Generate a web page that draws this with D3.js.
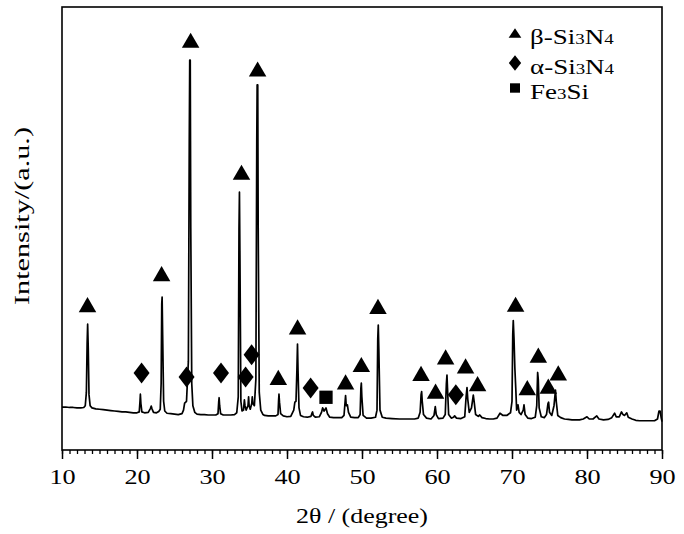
<!DOCTYPE html>
<html>
<head>
<meta charset="utf-8">
<script src="https://cdn.jsdelivr.net/npm/d3@7"></script>
<style>
    body { margin: 0; background: #fff; }
    svg text { font-family: "Liberation Serif", "Times New Roman", serif; fill: #000; }
</style>
</head>
<body>
<div id="xrd-chart"></div>
<script>

// 2theta (degree), intensity (a.u.)
var pattern = [
    [10.0, 97], [10.5, 97], [11.0, 96], [11.5, 96], [12.0, 95], [12.5, 95], [12.9, 96], [13.1, 100],
    [13.25, 130], [13.35, 240], [13.42, 284], [13.5, 230], [13.6, 125], [13.75, 100], [14.0, 95],
    [14.5, 93], [15, 92], [15.5, 91], [16, 90], [16.5, 89], [17, 88], [17.5, 87], [18, 86], [18.5, 86],
    [19, 85], [19.5, 84], [20, 84], [20.3, 86], [20.4, 110], [20.45, 126], [20.52, 105], [20.65, 86],
    [21, 84], [21.5, 85], [21.8, 94], [21.9, 99], [22.0, 93], [22.2, 85], [22.6, 84], [22.9, 87],
    [23.1, 92], [23.22, 150], [23.3, 330], [23.35, 345], [23.42, 260], [23.55, 110], [23.7, 88],
    [24, 83], [24.5, 82], [25, 81], [25.5, 80], [26, 82], [26.2, 90], [26.35, 106], [26.6, 110],
    [26.85, 200], [26.97, 700], [27.03, 880], [27.1, 880], [27.17, 500], [27.3, 150], [27.45, 100],
    [27.7, 85], [28, 81], [28.5, 80], [29, 80], [29.5, 79], [30, 79], [30.5, 79], [30.8, 82],
    [30.9, 110], [30.95, 118], [31.02, 100], [31.15, 82], [31.5, 79], [32, 79], [32.5, 79], [33, 80],
    [33.3, 84], [33.5, 120], [33.6, 500], [33.66, 582], [33.72, 450], [33.85, 110], [34.0, 88],
    [34.2, 90], [34.32, 113], [34.4, 100], [34.55, 90], [34.8, 100], [34.88, 120], [34.95, 100],
    [35.1, 92], [35.3, 105], [35.37, 120], [35.45, 105], [35.65, 100], [35.85, 160], [35.97, 700],
    [36.02, 824], [36.1, 824], [36.16, 500], [36.3, 130], [36.5, 90], [36.8, 80], [37, 78], [37.5, 77],
    [38, 77], [38.5, 77], [38.8, 80], [38.88, 112], [38.93, 126], [39.0, 108], [39.15, 82], [39.5, 77],
    [40, 75], [40.5, 76], [40.9, 90], [41.05, 108], [41.2, 110], [41.32, 180], [41.4, 239], [41.47, 180],
    [41.6, 95], [41.8, 78], [42.2, 75], [42.7, 74], [43.2, 76], [43.35, 84], [43.41, 86], [43.5, 78],
    [43.8, 74], [44.3, 75], [44.6, 85], [44.75, 95], [44.95, 88], [45.2, 95], [45.4, 82], [45.7, 74],
    [46.2, 73], [46.8, 73], [47.3, 73], [47.6, 78], [47.75, 110], [47.81, 123], [47.9, 100],
    [48.05, 102], [48.2, 85], [48.5, 74], [49, 73], [49.5, 73], [49.75, 80], [49.85, 140], [49.91, 151],
    [49.98, 120], [50.15, 78], [50.6, 72], [51.2, 72], [51.8, 74], [52.0, 90], [52.1, 250], [52.17, 282],
    [52.24, 230], [52.4, 90], [52.7, 74], [53.2, 72], [54, 71], [55, 70], [56, 70], [57, 70], [57.5, 72],
    [57.75, 85], [57.88, 125], [57.95, 132], [58.03, 110], [58.2, 80], [58.6, 72], [59.2, 70],
    [59.6, 78], [59.77, 98], [59.9, 80], [60.2, 71], [60.8, 72], [61.1, 80], [61.25, 150], [61.33, 169],
    [61.4, 140], [61.55, 80], [61.9, 72], [62.2, 74], [62.35, 77], [62.6, 72], [63.2, 71], [63.7, 75],
    [63.88, 120], [64.0, 141], [64.1, 115], [64.3, 85], [64.6, 95], [64.84, 124], [64.95, 110],
    [65.15, 80], [65.5, 76], [65.7, 79], [66, 73], [66.5, 71], [67, 70], [67.5, 70], [68, 72], [68.4, 83],
    [68.8, 78], [69.3, 78], [69.8, 84], [70.0, 110], [70.1, 260], [70.17, 292], [70.27, 250],
    [70.38, 185], [70.5, 140], [70.62, 90], [70.8, 102], [70.95, 85], [71.2, 80], [71.5, 90],
    [71.6, 102], [71.75, 80], [72.1, 72], [72.6, 71], [73.1, 74], [73.3, 100], [73.42, 175], [73.5, 160],
    [73.62, 95], [73.9, 75], [74.3, 73], [74.6, 80], [74.8, 105], [74.88, 108], [75.0, 85], [75.3, 78],
    [75.6, 100], [75.8, 135], [75.9, 110], [76.1, 78], [76.5, 73], [77, 70], [77.5, 69], [78, 68],
    [78.5, 68], [79, 68], [79.5, 70], [80.0, 75], [80.3, 70], [80.8, 70], [81.3, 77], [81.6, 70],
    [82.2, 68], [82.8, 69], [83.3, 73], [83.68, 83], [83.9, 75], [84.3, 75], [84.6, 86], [84.8, 80],
    [85.0, 78], [85.3, 84], [85.5, 74], [86, 70], [86.5, 67], [87, 66], [87.5, 66], [88, 66],
    [88.5, 66], [89, 66], [89.4, 70], [89.6, 88], [89.75, 88], [89.9, 72], [90, 64]
];

// phase markers: [2theta, level]
var betaPeaks = [
    [13.40, 328], [23.28, 398], [27.15, 925], [33.93, 627], [36.08, 860], [38.84, 164], [41.41, 278],
    [47.81, 154], [49.91, 193], [52.13, 324], [57.87, 173], [59.81, 133], [61.15, 210], [63.81, 190],
    [65.41, 150], [70.48, 329], [72.04, 141], [73.51, 214], [74.84, 144], [76.17, 174]
];
var alphaPeaks = [
    [20.61, 174], [26.61, 165], [31.2, 174], [34.48, 165], [35.28, 215], [43.15, 140], [62.51, 125]
];
var fe3siPeaks = [
    [45.2, 119]
];

var xTicks = [10, 20, 30, 40, 50, 60, 70, 80, 90];
var legendItems = [
    {shape: "triangle", name: ["β-Si", "3", "N", "4"]},
    {shape: "diamond", name: ["α-Si", "3", "N", "4"]},
    {shape: "square", name: ["Fe", "3", "Si"]}
];

var margin = {top: 7, right: 22, bottom: 84, left: 62},
    width = 684 - margin.left - margin.right,
    height = 534 - margin.top - margin.bottom;

var xScale = d3.scaleLinear().domain([10, 90]).range([0, width]);
var yScale = d3.scaleLinear().domain([0, 1000]).range([height, 0]);

function shapePath(shape, big) {
    var w, h;
    if (shape === "triangle") {
        w = big ? 17.5 : 12.7; h = big ? 15.2 : 9.5;
        return "M0," + (-h / 2) + "L" + (w / 2) + "," + (h / 2) + "L" + (-w / 2) + "," + (h / 2) + "Z";
    }
    if (shape === "diamond") {
        w = big ? 16 : 12.3; h = big ? 21 : 15.7;
        return "M0," + (-h / 2) + "L" + (w / 2) + ",0L0," + (h / 2) + "L" + (-w / 2) + ",0Z";
    }
    w = big ? 13.3 : 10; h = big ? 13.3 : 9.4;
    return "M" + (-w / 2) + "," + (-h / 2) + "h" + w + "v" + h + "h" + (-w) + "Z";
}

var svg = d3.select("#xrd-chart")
    .append("svg")
    .attr("width", 684)
    .attr("height", 534)
    .append("g")
    .attr("transform", "translate(" + margin.left + "," + margin.top + ")");

// minor ticks every degree
svg.append("g")
    .attr("transform", "translate(0," + height + ")")
    .call(d3.axisBottom(xScale).ticks(80).tickSize(4).tickFormat(""))
    .call(function (g) { g.select(".domain").remove(); })
    .selectAll("line").attr("stroke-width", 1.3);

var xAxisG = svg.append("g")
    .attr("class", "x axis")
    .attr("transform", "translate(0," + height + ")")
    .call(d3.axisBottom(xScale).tickValues(xTicks).tickSize(9).tickPadding(10).tickFormat(d3.format("d")));

xAxisG.select(".domain").remove();
xAxisG.selectAll("line").attr("stroke-width", 1.5);
xAxisG.selectAll("text")
    .style("font-size", "21px")
    .attr("fill", "#000")
    .attr("transform", "scale(1.25,1)");

var line = d3.line()
    .x(function (d) { return xScale(d[0]); })
    .y(function (d) { return yScale(d[1]); });

svg.append("path")
    .datum(pattern)
    .attr("fill", "none")
    .attr("stroke", "#000")
    .attr("stroke-width", 1.7)
    .attr("stroke-linejoin", "round")
    .attr("d", line);

function drawMarkers(data, shape) {
    svg.selectAll(".m-" + shape)
        .data(data)
        .enter()
        .append("path")
        .attr("class", "m-" + shape)
        .attr("d", shapePath(shape, true))
        .attr("fill", "#000")
        .attr("transform", function (d) {
            return "translate(" + xScale(d[0]) + "," + yScale(d[1]) + ")";
        });
}
drawMarkers(betaPeaks, "triangle");
drawMarkers(alphaPeaks, "diamond");
drawMarkers(fe3siPeaks, "square");

// frame
svg.append("rect")
    .attr("width", width)
    .attr("height", height)
    .attr("fill", "none")
    .attr("stroke", "#000")
    .attr("stroke-width", 1.6);

// legend
var legendY = [26, 56, 81];
var legend = svg.append("g").attr("transform", "translate(" + (453) + ",0)");
legendItems.forEach(function (item, i) {
    legend.append("path")
        .attr("d", shapePath(item.shape, false))
        .attr("fill", "#000")
        .attr("transform", "translate(0," + legendY[i] + ")");
    var t = legend.append("text")
        .attr("transform", "translate(15," + (legendY[i] + 11) + ") scale(1.35,1)")
        .style("font-size", "20px");
    item.name.forEach(function (part, j) {
        t.append("tspan")
            .style("font-size", (j % 2 === 1 ? 14 : 20) + "px")
            .text(part);
    });
});

svg.append("text")
    .attr("transform", "translate(" + (29 - margin.left) + "," + (216 - margin.top) + ") rotate(-90)")
    .attr("text-anchor", "middle")
    .attr("textLength", 178)
    .attr("lengthAdjust", "spacingAndGlyphs")
    .style("font-size", "20px")
    .text("Intensity/(a.u.)");

svg.append("text")
    .attr("x", width / 2)
    .attr("y", 523 - margin.top)
    .attr("text-anchor", "middle")
    .attr("textLength", 132)
    .attr("lengthAdjust", "spacingAndGlyphs")
    .style("font-size", "21px")
    .text("2θ / (degree)");

</script>
</body>
</html>
